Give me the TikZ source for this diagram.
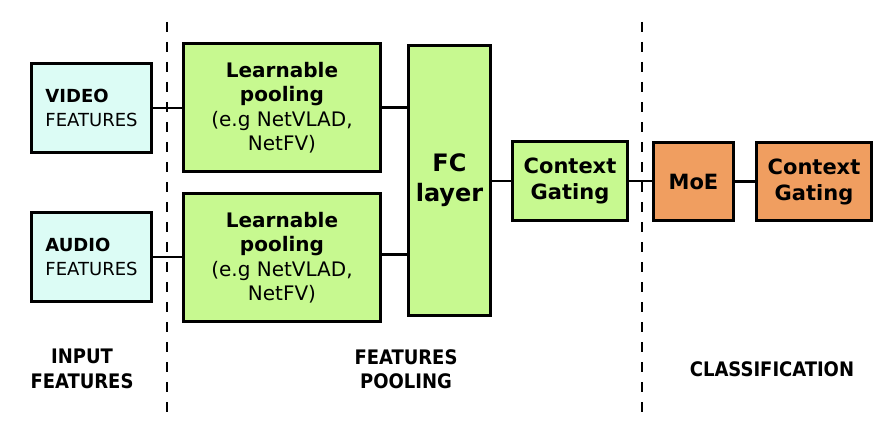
\documentclass[tikz,border=0pt]{standalone}
\usepackage{fontspec}
\setmainfont{DejaVu Sans}
\newfontfamily\condfont{DejaVu Sans Condensed}
\usetikzlibrary{positioning}

\definecolor{featcyan}{RGB}{220,252,245}
\definecolor{poolgreen}{RGB}{199,249,144}
\definecolor{clsorange}{RGB}{240,158,96}

\begin{document}
\begin{tikzpicture}[x=1pt, y=-1pt,
  box/.style={draw=black, line width=2.6pt, inner sep=0pt, align=center},
  featbox/.style={box, fill=featcyan, minimum width=120.5pt, minimum height=89.5pt,
    align=left, font=\fontsize{18}{23.5}\selectfont},
  poolbox/.style={box, fill=poolgreen, minimum width=197.5pt, minimum height=128.5pt,
    font=\fontsize{20}{24.5}\selectfont},
  fcbox/.style={box, fill=poolgreen, minimum width=82.5pt, minimum height=270.5pt,
    font=\fontsize{24}{30}\selectfont\bfseries},
  gatebox/.style={box, fill=poolgreen, minimum width=115.5pt, minimum height=79.5pt,
    font=\fontsize{21}{26}\selectfont\bfseries},
  clsbox/.style={box, fill=clsorange, minimum height=78.5pt,
    font=\fontsize{21}{26}\selectfont\bfseries},
  link/.style={draw=black, line width=2.2pt},
  sepline/.style={draw=black, line width=2pt, dash pattern=on 10pt off 10pt},
  seclabel/.style={align=center, font=\condfont\fontsize{20}{24.5}\selectfont\bfseries}]

  \useasboundingbox (0,0) rectangle (884,428);

  % section separators
  \coordinate (sepa top) at (167,22);  \coordinate (sepa bot) at (167,412);
  \coordinate (sepb top) at (642,22);  \coordinate (sepb bot) at (642,419);
  \draw[sepline] (sepa top) -- (sepa bot);
  \draw[sepline] (sepb top) -- (sepb bot);

  % input features
  \node[featbox] (video) at (91.5,108) {\textbf{VIDEO}\\FEATURES};
  \node[featbox] (audio) at (91.5,257) {\textbf{AUDIO}\\FEATURES};

  % pooling and fc layer
  \node[poolbox] (poolv) at (282,107.5)
    {\textbf{Learnable}\\\textbf{pooling}\\(e.g NetVLAD,\\NetFV)};
  \node[poolbox] (poola) at (282,257.5)
    {\textbf{Learnable}\\\textbf{pooling}\\(e.g NetVLAD,\\NetFV)};
  \node[fcbox] (fc) at (449.5,180.5) {FC\\layer};
  \node[gatebox] (gate) at (570,181) {Context\\Gating};

  % classification
  \node[clsbox, minimum width=80.5pt] (moe) at (693.5,181.5) {MoE};
  \node[clsbox, minimum width=115.5pt] (gateout) at (814,181.5) {Context\\Gating};

  % connections
  \draw[link] (video.east) -- (video.east -| poolv.west);
  \draw[link] (audio.east) -- (audio.east -| poola.west);
  \draw[link] (poolv.east) -- (poolv.east -| fc.west);
  \draw[link] ([yshift=3pt]poola.east) -- ([yshift=3pt]poola.east -| fc.west);
  \draw[link] (gate.west -| fc.east) -- (gate.west);
  \draw[link] (gate.east) -- (gate.east -| moe.west);
  \draw[link] (moe.east) -- (moe.east -| gateout.west);

  % section labels
  \node[seclabel] (inlbl) at (82,369) {INPUT\\FEATURES};
  \node[seclabel] (poollbl) at (406,369) {FEATURES\\POOLING};
  \node[seclabel] (clslbl) at (772,369) {CLASSIFICATION};
\end{tikzpicture}
\end{document}
